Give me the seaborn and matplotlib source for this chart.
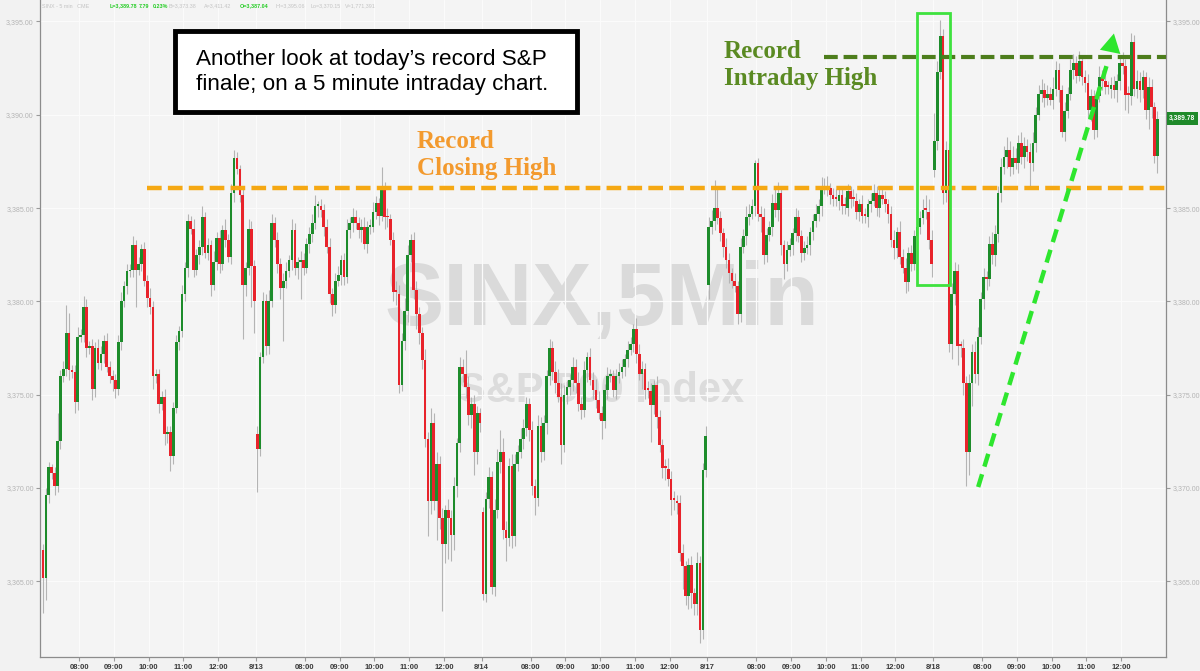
import numpy as np
import pandas as pd
import seaborn as sns
import matplotlib.pyplot as plt
from matplotlib.patches import Rectangle

sns.set_style('ticks')
plt.rcParams['font.family'] = ['Liberation Sans', 'DejaVu Sans']

#%% DATA - S&P 500, 5 min candles, 8/12 .. 8/18
dates = ['8/12', '8/13', '8/14', '8/17', '8/18']
hours = ['08:00', '09:00', '10:00', '11:00', '12:00']
first_bar = [4, 0, 0, 0, 0]          # first candle visible in each session
day_open = [3366.7, 3372.9, 3368.7, 3380.9, 3387.04]

close_812 = [3365.2, 3369.6, 3371.1, 3370.8, 3370.1, 3372.5, 3376.0, 3376.4, 3378.3, 3376.3,
             3376.2, 3374.6, 3378.1, 3378.2, 3379.7, 3377.5, 3377.6, 3375.3, 3377.5, 3376.7,
             3377.2, 3377.9, 3376.5, 3376.0, 3375.8, 3375.3, 3377.8, 3380.0, 3380.8, 3381.6,
             3381.7, 3383.0, 3381.7, 3382.0, 3382.8, 3381.1, 3380.2, 3379.7, 3376.0, 3376.1,
             3374.5, 3374.9, 3372.9, 3373.0, 3371.7, 3374.3, 3377.8, 3378.4, 3380.4, 3381.8,
             3384.3, 3383.9, 3381.7, 3382.5, 3382.9, 3384.5, 3382.6, 3383.0, 3380.9, 3382.1,
             3383.4, 3382.0, 3383.8, 3383.3, 3382.4, 3385.8, 3387.7, 3387.1, 3385.7, 3380.9,
             3381.8, 3383.9, 3381.9, 3380.0]
close_813 = [3372.1, 3377.0, 3380.0, 3377.6, 3380.0, 3384.2, 3383.3, 3382.0, 3380.7, 3381.1,
             3381.6, 3382.2, 3383.8, 3381.8, 3382.1, 3382.2, 3381.8, 3383.1, 3383.6, 3384.2,
             3385.1, 3385.1, 3384.9, 3384.0, 3382.9, 3380.4, 3379.8, 3381.1, 3381.4, 3382.2,
             3381.3, 3383.8, 3384.2, 3384.5, 3384.2, 3383.8, 3384.0, 3383.1, 3384.0, 3384.0,
             3384.8, 3385.25, 3384.6, 3386.0, 3384.5, 3384.4, 3383.3, 3380.5, 3380.4, 3375.5,
             3377.9, 3379.5, 3382.5, 3383.3, 3380.6, 3379.3, 3378.3, 3376.85, 3372.6, 3369.3,
             3373.5, 3369.3, 3371.3, 3368.4, 3367.0, 3368.8, 3368.4, 3367.5, 3370.1, 3372.4,
             3376.5, 3376.1, 3375.4, 3373.9, 3374.5, 3371.9, 3374.0, 3373.5]
close_814 = [3364.3, 3369.4, 3370.6, 3364.7, 3368.8, 3371.4, 3371.9, 3367.75, 3367.3, 3371.2,
             3367.4, 3371.3, 3371.9, 3372.6, 3373.2, 3374.5, 3373.1, 3370.1, 3369.45, 3373.3,
             3371.9, 3373.5, 3376.0, 3377.5, 3376.2, 3375.6, 3374.9, 3372.3, 3375.0, 3375.4,
             3375.8, 3376.5, 3375.6, 3374.5, 3374.2, 3376.3, 3377.0, 3375.8, 3375.25, 3374.7,
             3374.0, 3373.6, 3375.25, 3376.0, 3376.0, 3375.25, 3376.0, 3376.2, 3376.5, 3376.9,
             3377.4, 3377.7, 3378.5, 3377.2, 3376.1, 3376.4, 3375.25, 3375.2, 3374.45, 3375.5,
             3373.8, 3372.3, 3371.05, 3371.0, 3370.5, 3369.35, 3369.3, 3369.2, 3366.5, 3365.8,
             3364.2, 3365.85, 3364.35, 3363.8, 3365.96, 3362.4, 3370.96, 3372.8]
close_817 = [3384.0, 3384.3, 3385.0, 3384.45, 3383.65, 3382.9, 3382.2, 3381.5, 3381.1, 3380.8,
             3379.3, 3382.9, 3383.5, 3384.5, 3384.7, 3385.1, 3387.4, 3384.7, 3384.5, 3382.5,
             3383.55, 3384.0, 3385.25, 3384.9, 3385.8, 3383.0, 3382.0, 3382.75, 3383.0, 3383.65,
             3384.5, 3383.5, 3382.6, 3382.85, 3383.0, 3383.7, 3384.3, 3384.7, 3385.1, 3386.05,
             3386.2, 3386.05, 3385.7, 3385.5, 3385.4, 3385.7, 3385.1, 3385.0, 3385.9, 3385.5,
             3385.4, 3384.8, 3385.2, 3384.6, 3384.5, 3385.2, 3385.4, 3385.8, 3385.0, 3385.7,
             3385.5, 3385.2, 3384.7, 3383.3, 3382.85, 3383.7, 3382.4, 3381.8, 3381.05, 3382.6,
             3382.0, 3383.5, 3384.0, 3384.45, 3384.9, 3384.8, 3383.3, 3382.0]
close_818 = [3388.6, 3392.3, 3394.2, 3385.8, 3388.1, 3377.7, 3380.4, 3381.6, 3377.6, 3377.5,
             3375.6, 3371.9, 3375.6, 3377.3, 3376.1, 3378.1, 3380.1, 3381.3, 3381.2, 3383.1,
             3382.5, 3383.6, 3385.8, 3387.2, 3387.75, 3388.1, 3387.2, 3387.7, 3387.4, 3388.5,
             3387.75, 3388.3, 3388.0, 3387.4, 3388.5, 3390.0, 3391.1, 3391.3, 3390.9, 3391.1,
             3390.8, 3391.4, 3392.4, 3391.3, 3389.1, 3390.2, 3391.1, 3392.4, 3392.75, 3392.1,
             3392.9, 3392.0, 3391.7, 3390.25, 3391.0, 3389.2, 3391.0, 3392.0, 3391.8, 3391.5,
             3391.4, 3391.6, 3391.3, 3391.8, 3392.75, 3392.6, 3391.05, 3391.0, 3393.9, 3391.4,
             3391.8, 3391.3, 3392.0, 3390.25, 3391.5, 3390.4, 3387.8, 3389.78]

# wick lengths above / below the body, in tenths of a point
up_812 = [3, 4, 3, 2, 3, 15, 3, 4, 15, 11, 3, 4, 5, 3, 6, 4, 3, 4, 3, 5, 4, 3, 4, 3, 3, 3, 4, 5, 3, 4,
          3, 5, 3, 4, 3, 4, 3, 5, 3, 3, 3, 3, 4, 3, 3, 3, 4, 3, 5, 3, 4, 3, 5, 3, 4, 6, 3, 4, 3, 6,
          3, 4, 3, 6, 3, 5, 4, 3, 2, 4, 3, 5, 4, 3]
dn_812 = [19, 12, 4, 3, 5, 3, 4, 3, 4, 5, 3, 6, 4, 3, 4, 5, 3, 6, 4, 3, 4, 5, 3, 4, 6, 5, 3, 4, 3, 4,
          3, 4, 20, 3, 4, 3, 5, 4, 7, 4, 5, 3, 6, 5, 8, 4, 3, 4, 3, 4, 5, 3, 4, 3, 5, 4, 3, 4, 6, 3,
          4, 5, 3, 4, 3, 4, 5, 3, 4, 29, 6, 4, 22, 17]
up_813 = [4, 3, 5, 4, 6, 5, 3, 4, 3, 4, 5, 3, 6, 4, 3, 5, 4, 3, 4, 5, 6, 3, 4, 3, 4, 5, 3, 4, 5, 3,
          4, 6, 3, 5, 4, 3, 4, 5, 3, 4, 5, 4, 3, 12, 4, 5, 3, 4, 6, 5, 4, 7, 5, 3, 4, 5, 4, 3, 6, 4,
          8, 5, 6, 4, 5, 3, 6, 4, 5, 3, 5, 4, 13, 6, 4, 5, 4, 3]
dn_813 = [23, 4, 3, 5, 4, 3, 4, 5, 6, 28, 4, 3, 5, 4, 6, 20, 4, 3, 5, 4, 3, 6, 4, 5, 3, 5, 6, 4, 3, 5,
          4, 3, 4, 5, 3, 4, 6, 3, 5, 4, 3, 4, 5, 3, 6, 4, 3, 5, 6, 4, 3, 5, 6, 4, 5, 8, 6, 5, 4, 19,
          7, 5, 21, 6, 36, 10, 22, 14, 8, 6, 5, 4, 6, 5, 7, 12, 6, 5]
up_814 = [3, 4, 5, 3, 6, 7, 12, 8, 5, 4, 6, 5, 4, 6, 5, 4, 3, 5, 4, 6, 5, 4, 3, 5, 4, 6, 8, 7, 5, 4,
          3, 5, 4, 6, 4, 5, 3, 5, 4, 6, 5, 4, 3, 5, 4, 3, 4, 5, 4, 3, 5, 4, 3, 6, 5, 4, 3, 5, 4, 3,
          5, 4, 3, 5, 6, 4, 5, 3, 4, 5, 3, 4, 5, 3, 6, 4, 4, 5]
dn_814 = [3, 4, 5, 4, 5, 4, 6, 5, 12, 4, 6, 5, 4, 3, 5, 4, 6, 5, 9, 4, 5, 4, 6, 5, 4, 5, 3, 10, 4, 5,
          4, 6, 5, 4, 5, 4, 6, 3, 5, 4, 3, 10, 4, 5, 3, 4, 5, 4, 3, 5, 4, 3, 4, 5, 3, 8, 5, 4, 20, 5,
          6, 4, 5, 6, 4, 8, 5, 6, 4, 12, 5, 7, 8, 6, 6, 7, 5, 4]
up_817 = [5, 6, 15, 12, 4, 3, 5, 4, 3, 4, 3, 5, 4, 6, 5, 4, 2, 3, 4, 5, 4, 3, 5, 8, 6, 4, 3, 5, 4, 3,
          5, 4, 3, 4, 5, 3, 4, 5, 4, 6, 4, 5, 3, 4, 5, 4, 3, 5, 4, 3, 5, 4, 3, 5, 4, 3, 4, 5, 4, 3,
          5, 4, 3, 4, 5, 3, 6, 4, 5, 3, 4, 3, 5, 4, 6, 8, 7, 5]
dn_817 = [8, 4, 5, 3, 4, 5, 4, 5, 4, 3, 5, 4, 3, 5, 4, 3, 5, 4, 8, 5, 4, 3, 5, 4, 6, 5, 8, 4, 3, 5,
          4, 3, 5, 4, 3, 5, 4, 3, 4, 5, 3, 4, 5, 4, 3, 5, 4, 3, 4, 5, 3, 4, 5, 4, 3, 5, 4, 3, 4, 5,
          3, 4, 5, 4, 6, 5, 4, 3, 6, 5, 4, 3, 5, 4, 3, 4, 5, 7]
up_818 = [15, 6, 9, 4, 5, 4, 6, 5, 4, 3, 5, 4, 5, 4, 6, 5, 4, 5, 3, 4, 6, 5, 4, 5, 6, 7, 5, 6, 5, 4,
          6, 5, 4, 5, 6, 4, 5, 6, 4, 5, 4, 6, 5, 4, 3, 5, 4, 6, 5, 4, 5, 3, 4, 5, 4, 3, 5, 6, 4, 5,
          3, 4, 5, 4, 3, 6, 4, 5, 5, 4, 6, 5, 4, 3, 5, 4, 3, 4]
dn_818 = [4, 5, 4, 6, 5, 4, 8, 6, 10, 5, 6, 18, 12, 12, 5, 6, 4, 5, 6, 4, 5, 6, 4, 5, 4, 6, 5, 4, 3, 5,
          4, 6, 5, 12, 4, 5, 3, 4, 5, 4, 3, 5, 4, 6, 3, 5, 4, 3, 5, 4, 3, 4, 5, 4, 6, 5, 4, 3, 5, 4,
          3, 5, 4, 6, 5, 4, 8, 9, 5, 4, 5, 6, 4, 5, 10, 6, 4, 9]

record_close = 3386.1      # previous record closing high
record_intraday = 3393.1   # previous record intraday high
last_price = 3389.78

#%% build candles
closes = [close_812, close_813, close_814, close_817, close_818]
ups = [up_812, up_813, up_814, up_817, up_818]
dns = [dn_812, dn_813, dn_814, dn_817, dn_818]
BARS = 78  # 5-min bars per session

frames = []
for d in range(5):
    c = np.array(closes[d])
    assert len(c) == len(ups[d]) == len(dns[d]), dates[d]
    o = np.r_[day_open[d], c[:-1]]
    frames.append(pd.DataFrame({
        'x': BARS * d + first_bar[d] + np.arange(len(c)),
        'open': o, 'close': c,
        'high': np.maximum(o, c) + np.array(ups[d]) / 10,
        'low': np.minimum(o, c) - np.array(dns[d]) / 10}))
df = pd.concat(frames, ignore_index=True)
df['rise'] = df['close'] >= df['open']
df['body'] = (df['close'] - df['open']).where((df['close'] - df['open']).abs() > 0.1, 0.1)

#%% figure
W, H = 1200, 671
fig = plt.figure(figsize=(W / 100, H / 100), dpi=100, facecolor='#f2f2f2')
ax = fig.add_axes([40 / W, 1 - 657 / H, 1126 / W, 657 / H], facecolor='#f4f4f4')

# watermark
ax.text(0.499, 0.54, 'SINX,5Min', transform=ax.transAxes, ha='center', va='center',
        fontsize=64, fontweight='bold', color='#dadada', zorder=0)
ax.text(0.498, 0.405, 'S&P 500 Index', transform=ax.transAxes, ha='center', va='center',
        fontsize=30, fontweight='bold', color='#dcdcdc', zorder=0)

# candles
ax.vlines(df['x'], df['low'], df['high'], color='#b4b4b4', lw=0.8, zorder=2)
for rise, col in [(True, '#1d8c2b'), (False, '#e8232b')]:
    sub = df[df['rise'] == rise]
    ax.bar(sub['x'], sub['body'], bottom=sub['open'], width=0.92, color=col,
           linewidth=0, zorder=3)

# axes, ticks, grid
ax.set_xlim(2.95, 392.0)
ax.set_ylim(3360.94, 3396.15)
yt = np.arange(3365, 3396, 5)
ax.set_yticks(yt)
ax.set_yticklabels(['{:,.2f}'.format(v) for v in yt])
ax.tick_params(axis='y', left=True, right=True, labelleft=True, labelright=True,
               labelsize=5, labelcolor='#b4b4b4', color='#9a9a9a', length=3, pad=1.5)
# the last-price tag covers the right-hand 3,390 label
for v, tk in zip(yt, ax.yaxis.get_major_ticks()):
    if v == 3390:
        tk.label2.set_visible(False)

xt, xl = [], []
for d in range(5):
    if d > 0:
        xt.append(BARS * d - 0.5)
        xl.append(dates[d])
    for k, h in enumerate(hours):
        xt.append(BARS * d + 16.5 + 12 * k)
        xl.append(h)
ax.set_xticks(xt)
ax.set_xticklabels(xl)
ax.tick_params(axis='x', labelsize=5.5, labelcolor='#3a3a3a', color='#9a9a9a', length=3, pad=2)
for t in ax.get_xticklabels():
    t.set_fontweight('bold')
ax.grid(True, color='#fbfbfb', lw=0.9, zorder=0)
ax.set_axisbelow(True)
for s in ['left', 'right', 'bottom']:
    ax.spines[s].set_color('#8c8c8c')
    ax.spines[s].set_linewidth(0.9)
ax.spines['top'].set_visible(False)

# record levels
ax.plot([40, 392], [record_close] * 2, ls=(0, (3.3, 1.4)), lw=3.2, color='#f5a813', zorder=5)
ax.plot([BARS * 3 + 40, 392], [record_intraday] * 2, ls=(0, (3.3, 1.4)), lw=3.0,
        color='#4d7d1c', zorder=5)

# highlight box around the 8/18 open, and the rally arrow
ax.add_patch(Rectangle((306.0, 3380.87), 11.4, 14.58, fill=False, ec='#3ee23e', lw=2, zorder=6))
ax.plot([327.1, 372.0], [3370.05, 3392.9], ls=(0, (3, 1.8)), lw=3.2, color='#2ee62e', zorder=6)
ax.annotate('', xy=(374.2, 3394.5), xytext=(371.4, 3392.4),
            arrowprops=dict(arrowstyle='-|>,head_length=0.9,head_width=0.5', color='#2ee62e',
                            lw=0, mutation_scale=15), zorder=6)


# annotations (figure pixel positions)
def fx(px):
    return px / W


def fy(py):
    return 1 - py / H


fig.add_artist(Rectangle((fx(175), fy(112)), fx(577) - fx(175), fy(31) - fy(112),
                         transform=fig.transFigure, fc='white', ec='black', lw=3.5, zorder=10))
fig.text(fx(196), fy(72), 'Another look at today\u2019s record S&P\nfinale; on a 5 minute intraday chart.',
         ha='left', va='center', fontsize=16.2, color='black', linespacing=1.3, zorder=11)

serif = ['Liberation Serif', 'DejaVu Serif']
orange, olive = '#f39a2e', '#5a8a22'
fig.text(fx(417), fy(141), 'Record', family=serif, fontsize=18, fontweight='bold',
         color=orange, va='center', zorder=11)
fig.text(fx(417), fy(169), 'Closing High', family=serif, fontsize=18, fontweight='bold',
         color=orange, va='center', zorder=11)
fig.text(fx(724), fy(51), 'Record', family=serif, fontsize=18, fontweight='bold',
         color=olive, va='center', zorder=11)
fig.text(fx(724), fy(79), 'Intraday High', family=serif, fontsize=18, fontweight='bold',
         color=olive, va='center', zorder=11)

# header line
grey, lime = '#c4c4c4', '#22cc22'
hdr = [(42, 'SINX - 5 min   CME', grey), (110, 'L=3,389.78', lime), (139, '7.79', lime),
       (153, '0.23%', lime), (168, 'B=3,373.38', grey), (204, 'A=3,411.42', grey),
       (240, 'O=3,387.04', lime), (276, 'Hi=3,395.06', grey),
       (310, 'Lo=3,370.15', grey), (345, 'V=1,771,391', grey)]
for px, s, col in hdr:
    fig.text(fx(px), fy(6), s, fontsize=3.9, color=col, va='center',
             fontweight='bold' if col == lime else 'normal')

# last price tag
fig.add_artist(Rectangle((fx(1167), fy(125)), fx(31), 13 / H, transform=fig.transFigure,
                         fc='#1f8a2a', ec='none', zorder=10))
fig.text(fx(1182), fy(118.5), '{:,.2f}'.format(last_price), ha='center', va='center',
         fontsize=4.8, color='white', fontweight='bold', zorder=11)

fig.savefig('out.png', dpi=100, facecolor=fig.get_facecolor())
